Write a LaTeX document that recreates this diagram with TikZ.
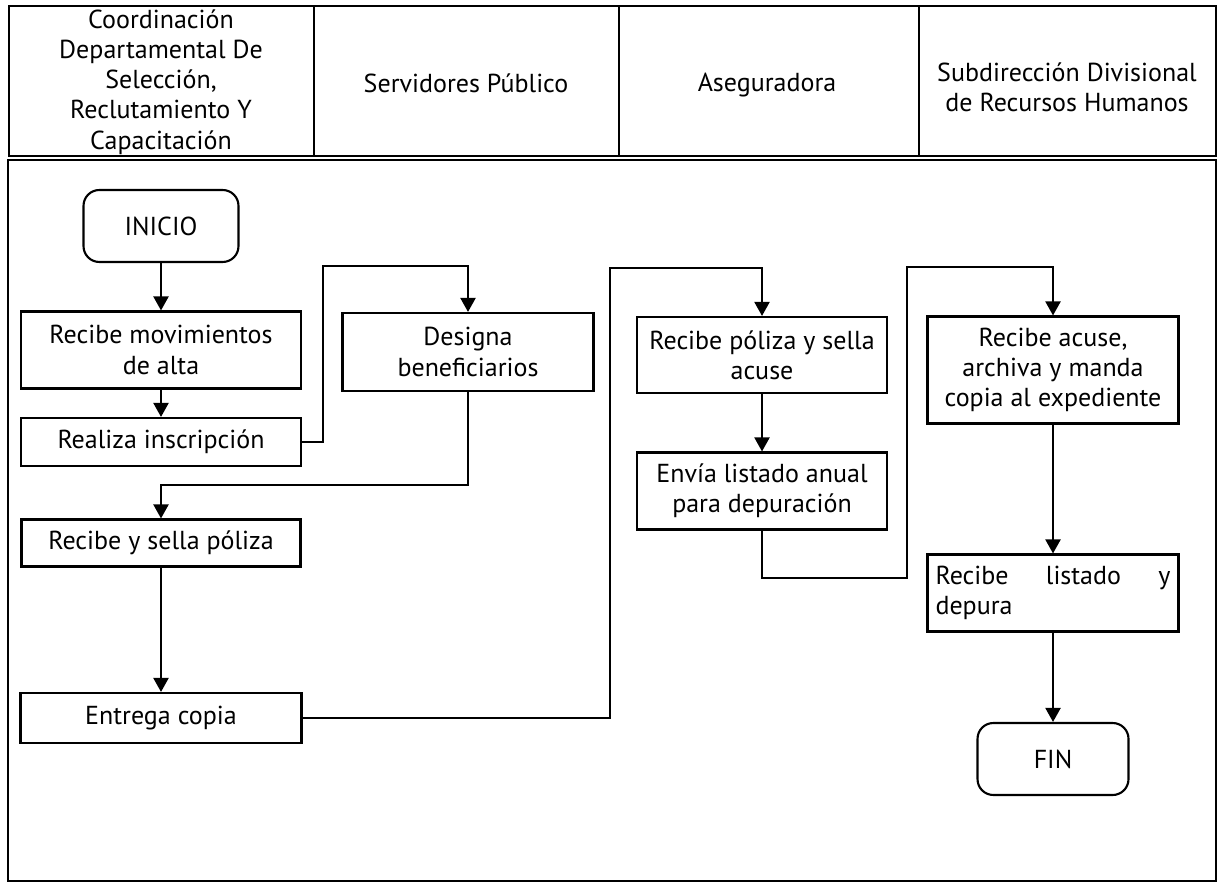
\documentclass[tikz,border=0pt]{standalone}
\usepackage{fontspec}
\setmainfont{PT Sans}
\usepackage{tikz}
\usetikzlibrary{arrows.meta,positioning}

\begin{document}
\begin{tikzpicture}[x=0.02cm,y=-0.02cm, font=\fontsize{14.8}{17.2}\selectfont,
  line width=1.2pt,
  proc/.style={draw, rectangle, align=center, inner sep=2pt},
  term/.style={draw, rounded corners=9pt, align=center},
  flow/.style={-{Triangle[length=0.28cm,width=0.3cm]}}]
\useasboundingbox (0,0) rectangle (1219,884);
% swimlane headers
\draw (9,6) rectangle (1216,156);
\draw (314,6) -- (314,156);
\draw (619,6) -- (619,156);
\draw (919,6) -- (919,156);
\node[align=center] (coord) at (161,82) {Coordinación\\Departamental De\\Selección,\\Reclutamiento Y\\Capacitación};
\node (serv) at (466,83) {Servidores Público};
\node (aseg) at (767,85) {Aseguradora};
\node[align=center] (subd) at (1067,87) {Subdirección Divisional\\de Recursos Humanos};
\draw (8,160) rectangle (1216,881);
% steps
\node[term, minimum width=3.1cm, minimum height=1.44cm] (inicio) at (161,226) {INICIO};
\node[proc, minimum width=5.6cm, minimum height=1.54cm] (alta) at (161,350) {Recibe movimientos\\de alta};
\node[proc, minimum width=5.6cm, minimum height=0.96cm] (inscr) at (161,442) {Realiza inscripción};
\node[proc, minimum width=5.02cm, minimum height=1.56cm] (benef) at (468,352) {Designa\\beneficiarios};
\node[proc, minimum width=5.58cm, minimum height=0.94cm] (sella) at (161,543) {Recibe y sella póliza};
\node[proc, minimum width=5.62cm, minimum height=1.0cm] (copia) at (161,718) {Entrega copia};
\node[proc, minimum width=5.0cm, minimum height=1.52cm] (poliza) at (762,355) {Recibe póliza y sella\\acuse};
\node[proc, minimum width=5.0cm, minimum height=1.54cm] (envia) at (762,491) {Envía listado anual\\para depuración};
\node[proc, minimum width=5.02cm, minimum height=2.14cm] (acuse) at (1053,370) {Recibe acuse,\\archiva y manda\\copia al expediente};
\node[proc, minimum width=5.02cm, minimum height=1.54cm, text width=4.7cm, align=left] (depura) at (1053,593) {Recibe\hfill listado\hfill y\\depura};
\node[term, minimum width=3.02cm, minimum height=1.44cm] (fin) at (1053,759) {FIN};
% bends
\coordinate (b1) at (323,266);
\coordinate (b2) at (161,485);
\coordinate (b3) at (610,268);
\coordinate (b4) at (907,578);
\coordinate (b5) at (907,267);
% connectors
\draw[flow] (inicio) -- (alta);
\draw[flow] (alta) -- (inscr);
\draw[flow] (inscr.east) -| (b1) -| (benef.north);
\draw[flow] (benef.south) |- (b2) -- (sella.north);
\draw[flow] (sella) -- (copia);
\draw[flow] (copia.east) -| (b3) -| (poliza.north);
\draw[flow] (poliza) -- (envia);
\draw[flow] (envia.south) |- (b4) -- (b5) -| (acuse.north);
\draw[flow] (acuse) -- (depura);
\draw[flow] (depura) -- (fin);
\end{tikzpicture}
\end{document}
